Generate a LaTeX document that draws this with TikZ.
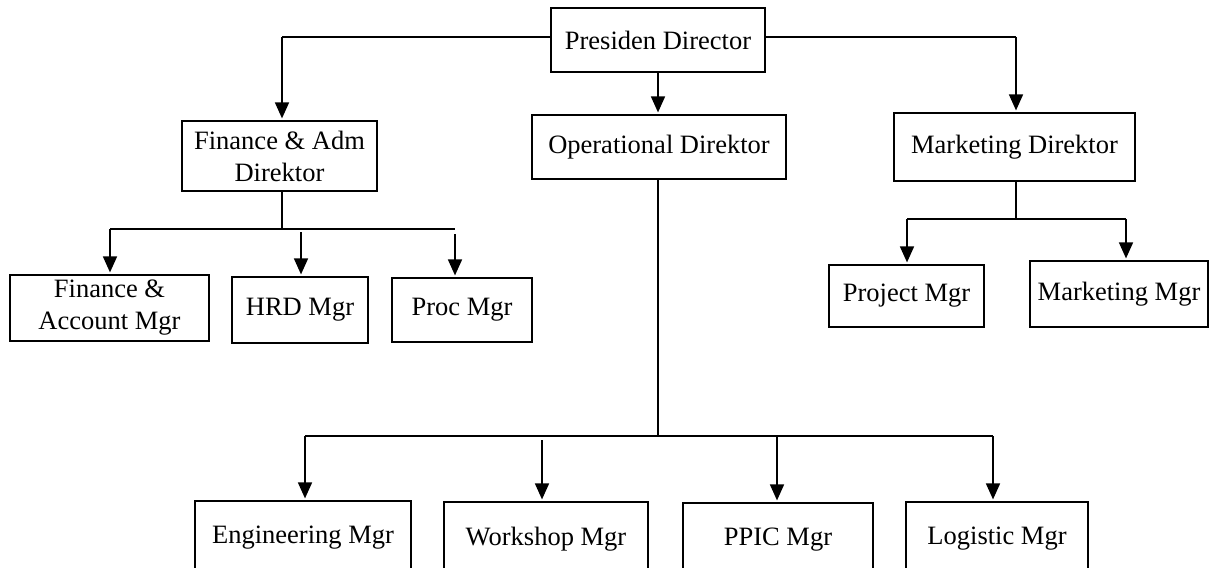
\documentclass[tikz,border=0pt]{standalone}
\usepackage{fontspec}
\setmainfont{Liberation Serif}
\usetikzlibrary{arrows.meta}
\tikzset{
  box/.style={draw, line width=1.2pt, inner sep=0pt, align=center, font=\fontsize{26.5}{32}\selectfont},
  conn/.style={line width=1.2pt},
  arr/.style={line width=1.6pt, -{Triangle[length=16pt,width=14pt]}, shorten >=2pt}
}
\begin{document}
\begin{tikzpicture}[x=1pt,y=-1pt]
\useasboundingbox (0,0) rectangle (1214,567);
\clip (0,0) rectangle (1214,567);
% nodes
\node[box, minimum width=214pt, minimum height=64pt] (pres) at (658,40) {Presiden Director};
\node[box, minimum width=195pt, minimum height=70pt] (fin) at (279.5,156) {Finance \& Adm\\Direktor};
\node[box, minimum width=254pt, minimum height=64pt] (ops) at (659,147) {Operational Direktor};
\node[box, minimum width=241pt, minimum height=68pt] (mkt) at (1014.5,147) {Marketing Direktor};
\node[box, minimum width=199pt, minimum height=66pt] (fam) at (109.5,308) {Finance \&\\Account Mgr};
\node[box, minimum width=136pt, minimum height=66pt] (hrd) at (300,310) {HRD Mgr};
\node[box, minimum width=140pt, minimum height=64pt] (proc) at (462,310) {Proc Mgr};
\node[box, minimum width=155pt, minimum height=62pt] (proj) at (906.5,296) {Project Mgr};
\node[box, minimum width=178pt, minimum height=66pt] (mmgr) at (1119,294) {Marketing Mgr};
\node[box, minimum width=216pt, minimum height=74pt] (eng) at (303,538) {Engineering Mgr};
\node[box, minimum width=204pt, minimum height=74pt] (ws) at (546,539) {Workshop Mgr};
\node[box, minimum width=190pt, minimum height=74pt] (ppic) at (778,540) {PPIC Mgr};
\node[box, minimum width=182pt, minimum height=74pt] (log) at (997,539) {Logistic Mgr};
% top level
\coordinate (pl) at (282,37);
\coordinate (pr) at (1016,37);
\draw[conn] ([yshift=3pt]pres.west) -- (pl);
\draw[arr] (pl) -- (pl |- fin.north);
\draw[conn] ([yshift=3pt]pres.east) -- (pr);
\draw[arr] (pr) -- (pr |- mkt.north);
\draw[arr] (pres.south) -- (pres.south |- ops.north);
% finance branch
\coordinate (fs) at (282,229);
\coordinate (f1) at (110,229);
\coordinate (f2) at (301,232);
\coordinate (f3) at (455,234);
\draw[conn] (fs |- fin.south) -- (fs);
\draw[conn] (f1) -- (455,229);
\draw[arr] (f1) -- (f1 |- fam.north);
\draw[arr] (f2) -- (f2 |- hrd.north);
\draw[arr] (f3) -- (f3 |- proc.north);
% marketing branch
\coordinate (ms) at (1016,219);
\coordinate (m1) at (907,219);
\coordinate (m2) at (1126,219);
\draw[conn] (ms |- mkt.south) -- (ms);
\draw[conn] (m1) -- (m2);
\draw[arr] (m1) -- (m1 |- proj.north);
\draw[arr] (m2) -- (m2 |- mmgr.north);
% operational branch
\coordinate (os) at (658,436);
\coordinate (o1) at (305,436);
\coordinate (o2) at (542,440);
\coordinate (o3) at (777,436);
\coordinate (o4) at (993,436);
\draw[conn] (os |- ops.south) -- (os);
\draw[conn] (o1) -- (o4);
\draw[arr] (o1) -- (o1 |- eng.north);
\draw[arr] (o2) -- (o2 |- ws.north);
\draw[arr] (o3) -- (o3 |- ppic.north);
\draw[arr] (o4) -- (o4 |- log.north);
\end{tikzpicture}
\end{document}
